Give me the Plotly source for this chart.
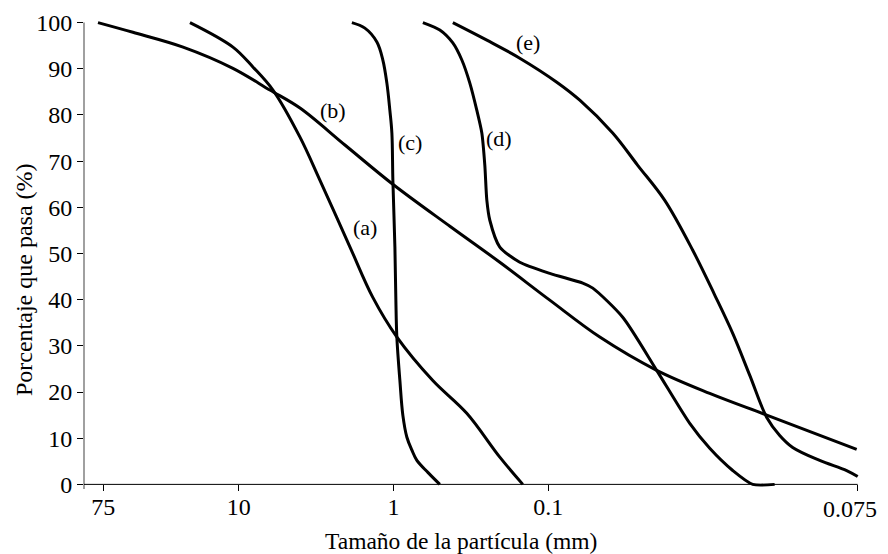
import numpy as np
import plotly.graph_objects as go

# ---- data (particle size in mm, percent passing) ----
a_size = [20.66, 10.9, 8.1, 6.01, 4.02, 2.99, 1.91, 1.36, 0.95, 0.557, 0.336, 0.2055, 0.146]
a_pct = [100, 94.7, 90.4, 85.4, 75.2, 65.9, 51.4, 40.5, 31.9, 22.5, 15.4, 5.9, 0]

b_size = [81.2, 48.3, 22.9, 10.9, 6.29, 4.02, 2.06, 1.01, 0.432, 0.2055, 0.0977, 0.0464,
          0.0199, 0.00904, 0.00387, 0.001015]
b_pct = [100, 97.9, 94.7, 90.1, 85.4, 81.5, 73.5, 65.0, 55.9, 48.1, 39.9, 31.9, 24.7, 19.7, 15.0, 7.6]

c_size = [1.857, 1.530, 1.280, 1.171, 1.103, 1.055, 1.024, 1.009, 0.979, 0.965, 0.951, 0.909,
          0.870, 0.819, 0.760, 0.706, 0.5995, 0.5017]
c_pct = [100, 98.8, 95.8, 91.9, 86.9, 81.0, 76.1, 65.9, 51.4, 39.9, 31.9, 22.5,
         15.0, 10.2, 7.4, 5.2, 2.6, 0]

d_size = [0.6457, 0.5017, 0.4134, 0.3615, 0.3210, 0.2892, 0.2685, 0.2568, 0.2492, 0.2384,
          0.2055, 0.1527, 0.0977, 0.0598, 0.0515, 0.0330, 0.0199, 0.01217, 0.00904,
          0.00642, 0.00477, 0.00344]
d_pct = [100, 98.4, 95.6, 91.9, 86.9, 81.0, 76.1, 69.1, 61.5, 57.2,
         51.4, 48.1, 45.7, 43.6, 42.5, 36.2, 24.7, 13.2, 7.8,
         3.0, 0, 0]

e_size = [0.4134, 0.2492, 0.1527, 0.0880, 0.0625, 0.0383, 0.0264, 0.01765, 0.01164, 0.00839,
          0.00642, 0.00498, 0.00387, 0.00319, 0.00263, 0.00176, 0.001178, 0.001]
e_pct = [100, 96.2, 92.3, 87.1, 83.2, 76.1, 69.1, 61.5, 50.7, 41.0,
         32.7, 23.6, 14.5, 10.6, 8.0, 5.2, 3.0, 1.7]

curve_labels = ["(a)", "(b)", "(c)", "(d)", "(e)"]
label_size = [1.53, 2.46, 0.7835, 0.2085, 0.1354]
label_pct = [55.7, 81.0, 74.1, 75.0, 95.8]

x_tickvals = [75, 10, 1, 0.1, 0.001]
x_ticktext = ["75", "10", "1", "0.1", "0.075"]
y_tickvals = [0, 10, 20, 30, 40, 50, 60, 70, 80, 90, 100]

FONT = "Liberation Serif"

fig = go.Figure()
series = [(a_size, a_pct, 1.0), (b_size, b_pct, 1.0), (c_size, c_pct, 1.0),
          (d_size, d_pct, 0.7), (e_size, e_pct, 1.0)]
for xs, ys, sm in series:
    fig.add_trace(go.Scatter(x=xs, y=ys, mode="lines",
                             line=dict(color="black", width=3, shape="spline", smoothing=sm),
                             showlegend=False, hoverinfo="skip"))

for t, xv, yv in zip(curve_labels, label_size, label_pct):
    fig.add_annotation(x=np.log10(xv), y=yv, text=t, showarrow=False,
                       font=dict(family=FONT, size=22, color="black"))

# the last tick label sits at the right edge; draw it right-aligned so it stays visible
fig.add_annotation(x=1.0245, y=-0.0425, xref="paper", yref="paper", showarrow=False,
                   text=x_ticktext[-1], xanchor="right", yanchor="middle",
                   font=dict(family=FONT, size=24, color="black"))

# axis titles placed as annotations (paper coordinates)
fig.add_annotation(x=0.4856, y=-0.1104, xref="paper", yref="paper", showarrow=False,
                   text="Tamaño de la partícula (mm)", xanchor="center", yanchor="middle",
                   font=dict(family=FONT, size=23.5, color="black"))
fig.add_annotation(x=-0.0773, y=0.4437, xref="paper", yref="paper", showarrow=False,
                   text="Porcentaje que pasa (%)", textangle=-90,
                   xanchor="center", yanchor="middle",
                   font=dict(family=FONT, size=24, color="black"))

# axis lines
fig.add_shape(type="line", xref="paper", yref="y", x0=0, x1=0, y0=-1.4, y1=100,
              line=dict(color="#808080", width=1.5))
fig.add_shape(type="line", xref="x", yref="y", x0=100, x1=0.001, y0=0, y1=0,
              line=dict(color="black", width=1))

fig.update_xaxes(type="log", range=[2.0, -3.015], tickvals=x_tickvals,
                 ticktext=x_ticktext[:-1] + [""],
                 ticks="outside", ticklen=6, tickcolor="black", tickwidth=1,
                 showgrid=False, zeroline=False, showline=False, automargin=False,
                 anchor="free", position=1/102, ticklabelstandoff=-5,
                 tickfont=dict(family=FONT, size=24, color="black"))
fig.update_yaxes(range=[-1, 101], tickvals=y_tickvals, ticks="outside", ticklen=6,
                 tickcolor="black", tickwidth=1, showgrid=False, zeroline=False, showline=False,
                 automargin=False,
                 tickfont=dict(family=FONT, size=24, color="black"))

# page body has an 8px margin, so the figure is sized/positioned to compensate
fig.update_layout(width=880, height=546,
                  margin=dict(l=76, r=28, t=10, b=65, autoexpand=False),
                  paper_bgcolor="white", plot_bgcolor="white")
fig.write_html("out.html")
